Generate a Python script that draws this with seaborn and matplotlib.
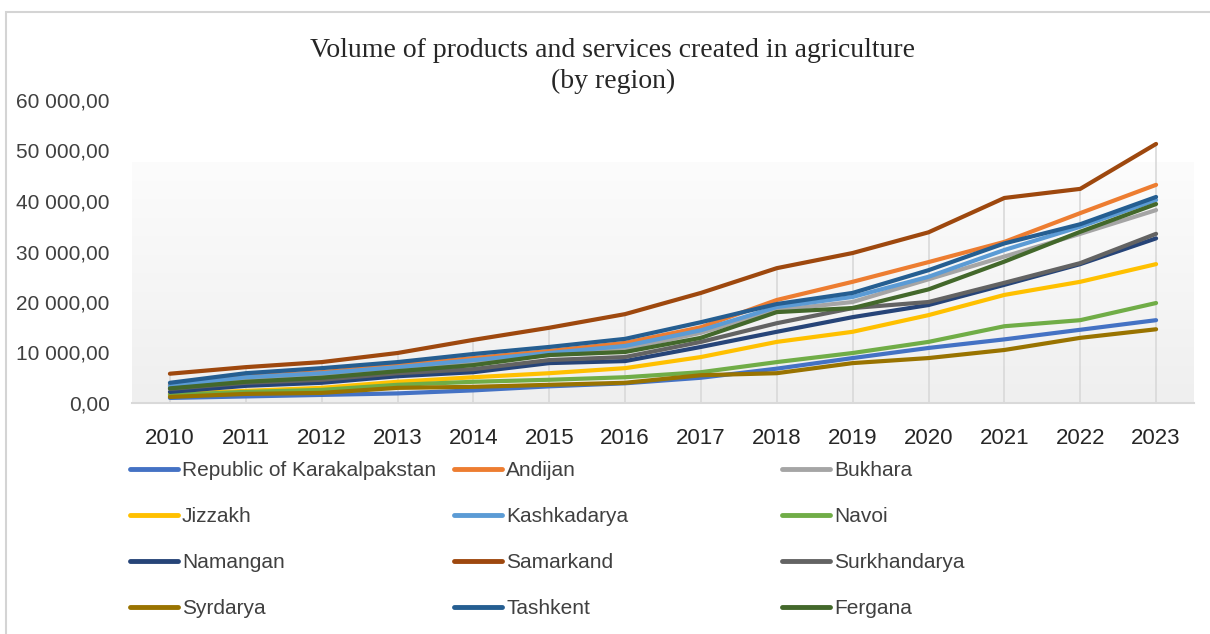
import numpy as np
import pandas as pd
import matplotlib
matplotlib.use("Agg")
import matplotlib.pyplot as plt
from matplotlib.lines import Line2D
from matplotlib.patches import Rectangle
from matplotlib.ticker import FuncFormatter
from matplotlib.colors import LinearSegmentedColormap
import seaborn as sns

years = [2010, 2011, 2012, 2013, 2014, 2015, 2016, 2017, 2018, 2019, 2020, 2021, 2022, 2023]

regions = ["Republic of Karakalpakstan", "Andijan", "Bukhara", "Jizzakh", "Kashkadarya", "Navoi",
           "Namangan", "Samarkand", "Surkhandarya", "Syrdarya", "Tashkent", "Fergana"]

karakalpakstan = [1000, 1300, 1600, 1900, 2500, 3300, 3900, 5000, 6800, 8900, 10900, 12600, 14500, 16400]
andijan = [3600, 5300, 6100, 7500, 8900, 10300, 11900, 15000, 20400, 24000, 27900, 31900, 37600, 43200]
bukhara = [3200, 4800, 5500, 6700, 8100, 9500, 10700, 13900, 18400, 20000, 24500, 29000, 33500, 38200]
jizzakh = [1800, 2400, 3000, 4200, 5100, 5900, 6900, 9100, 12100, 14100, 17400, 21400, 24000, 27500]
kashkadarya = [3400, 5100, 5900, 7100, 8500, 9900, 11300, 14400, 19000, 21000, 25000, 30300, 34900, 40200]
navoi = [1600, 2200, 2600, 3600, 4200, 4600, 5100, 6100, 8100, 9900, 12100, 15200, 16400, 19800]
namangan = [2200, 3400, 4000, 5300, 6100, 7900, 8300, 11100, 14100, 17000, 19400, 23400, 27500, 32600]
samarkand = [5800, 7100, 8100, 9900, 12500, 14900, 17600, 21800, 26700, 29700, 33800, 40600, 42400, 51300]
surkhandarya = [2800, 4000, 4600, 5900, 6700, 8500, 9100, 12100, 15800, 18800, 20000, 23800, 27700, 33500]
syrdarya = [1200, 1800, 2000, 3000, 3200, 3600, 4000, 5500, 5900, 7900, 8900, 10500, 12900, 14600]
tashkent = [4000, 5900, 6900, 8100, 9700, 11100, 12700, 16000, 19600, 21800, 26300, 31600, 35400, 40800]
fergana = [2900, 4200, 5000, 6300, 7500, 9500, 10100, 12900, 18000, 18800, 22500, 28000, 33900, 39400]

series = [karakalpakstan, andijan, bukhara, jizzakh, kashkadarya, navoi,
          namangan, samarkand, surkhandarya, syrdarya, tashkent, fergana]

colors = ["#4472C4", "#ED7D31", "#A5A5A5", "#FFC000", "#5B9BD5", "#70AD47",
          "#264478", "#9E480E", "#636363", "#997300", "#255E91", "#43682B"]

title_text = "Volume of products and services created in agriculture\n(by region)"

rows = []
for name, vals in zip(regions, series):
    for y, v in zip(years, vals):
        rows.append({"Year": y, "Value": v, "Region": name})
df = pd.DataFrame(rows)
palette = dict(zip(regions, colors))

sns.set_theme(style="white")
plt.rcParams["font.family"] = ["Liberation Sans", "DejaVu Sans"]

fig = plt.figure(figsize=(12.10, 6.34), dpi=100)
W, H = 1210, 634
ax = fig.add_axes([132 / W, 1 - 403 / H, (1194 - 132) / W, (403 - 100) / H])

# chart border (top and left visible)
fig.patches.append(Rectangle((6 / W, -0.2), 1.5, 1.2 - 12 / H, transform=fig.transFigure,
                             fill=False, edgecolor="#d4d4d4", lw=1.5, zorder=0))

# plot area gradient
grad = np.linspace(0, 1, 256).reshape(-1, 1)
cmap = LinearSegmentedColormap.from_list("g", ["#efefef", "#fcfcfc"])
ax.imshow(grad, aspect="auto", cmap=cmap, origin="lower",
          extent=[0, 1, 0, (403 - 163) / 303], transform=ax.transAxes, zorder=0)

# drop lines
tops = np.max(np.array(series), axis=0)
ax.vlines(years, 0, tops, colors="#d9d9d9", lw=1.2, zorder=1)

sns.lineplot(data=df, x="Year", y="Value", hue="Region", hue_order=regions,
             palette=palette, lw=3, legend=False, ax=ax, sort=False, zorder=3)

ax.set_xlim(2009.5, 2023.5)
ax.set_ylim(0, 60000)
ax.set_xticks(years)
ax.set_xticklabels([str(y) for y in years])
ax.set_yticks(np.arange(0, 60001, 10000))
ax.yaxis.set_major_formatter(FuncFormatter(lambda v, p: f"{v:,.2f}".replace(",", " ").replace(".", ",")))
ax.tick_params(axis="y", labelsize=15, colors="#404040", length=0, pad=16)
ax.tick_params(axis="x", labelsize=16, colors="#262626", length=0, pad=18)
ax.set_xlabel("")
ax.set_ylabel("")
ax.set_facecolor("none")
for s in ["top", "right", "left"]:
    ax.spines[s].set_visible(False)
ax.spines["bottom"].set_color("#d9d9d9")
ax.spines["bottom"].set_linewidth(1.5)
ax.grid(False)

fig.text(613 / W, 1 - 66 / H, title_text, ha="center", va="center",
         fontsize=20, family="Liberation Serif", color="#262626", linespacing=1.3)

# legend: 3 columns
col_x = [130, 454, 782]
for c in range(3):
    idx = [c + 3 * r for r in range(4)]
    handles = [Line2D([0], [0], color=colors[i], lw=3.5) for i in idx]
    labels = [regions[i] for i in idx]
    fig.legend(handles, labels, loc="upper left", bbox_to_anchor=(col_x[c] / W, 1 - 461 / H),
               frameon=False, fontsize=15, handlelength=2.3, handletextpad=0.2,
               labelspacing=1.3, borderpad=0, borderaxespad=0, labelcolor="#404040")

fig.savefig("out.png", dpi=100, facecolor="white")
